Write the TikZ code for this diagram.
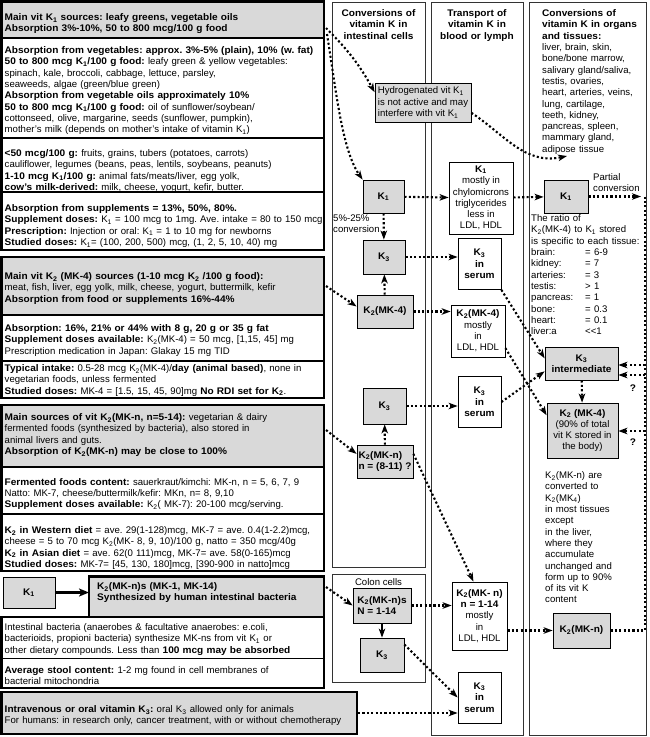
\documentclass[tikz,border=0pt]{standalone}
\usepackage{fontspec}
\setmainfont{Liberation Sans}[BoldFeatures={FakeStretch=1.05}]
\usetikzlibrary{arrows.meta,positioning,calc}
\definecolor{kgray}{gray}{0.85}
\newcommand{\ks}[1]{K\textsubscript{#1}}
\newcommand{\tissuecol}[1]{\makebox[54pt][l]{#1}}
\frenchspacing

\begin{document}
\begin{tikzpicture}[x=1pt, y=-1pt,
    every node/.style={font=\fontsize{9.6}{11.3}\selectfont},
    txt/.style={inner sep=0pt, align=left, anchor=base west, text width=#1},
    txt/.default=340pt,
    ttl/.style={inner sep=0pt, align=center, anchor=base, text width=92pt, font=\fontsize{9.6}{11.3}\selectfont\bfseries},
    frame/.style={draw=black!80, line width=1pt},
    heavy/.style={draw, line width=2.6pt},
    sepline/.style={line width=1.3pt},
    kbox/.style={draw, fill=kgray, line width=0.8pt, inner sep=1pt, align=center, font=\fontsize{9.6}{11.3}\selectfont\bfseries},
    wbox/.style={draw, fill=white, line width=0.8pt, inner sep=1pt, align=center},
    serum/.style={wbox, minimum width=43pt, minimum height=51pt, font=\fontsize{9.6}{11.3}\selectfont\bfseries},
    dotline/.style={line width=2.1pt, dash pattern=on 2.1pt off 2.3pt},
    dotarrow/.style={dotline, -{Stealth[length=9pt, width=6.5pt, inset=2.5pt]}},
    solidarrow/.style={line width=1.4pt, -{Stealth[length=9pt, width=6.5pt, inset=2.5pt]}}
]
\useasboundingbox (0,0) rectangle (650,737);

% Left panels: grey headers, rules and heavy frames
\foreach \l/\t/\b in {1.5/1.5/38, 1.5/257/315, 1.5/405/467, 89/576.5/617, 1.5/692/734}
    \fill[kgray] (\l,\t) rectangle (324,\b);
\fill[kgray] (324,692) rectangle (357,734);
\foreach \l/\y in {1.5/38, 1.5/138, 1.5/192, 1.5/315, 1.5/361, 1.5/467, 1.5/514, 89/617, 1.5/658.5}
    \draw[sepline] (\l,\y) -- (324,\y);
\foreach \t/\b in {1.5/250, 257/398, 405/571}
    \draw[heavy] (1.5,\t) rectangle (324,\b);
\draw[heavy] (89,576.5) -- (324,576.5) -- (324,688) -- (1.5,688) -- (1.5,617) -- (89,617) -- cycle;
\draw[heavy] (1.5,692) rectangle (357,734);

% Columns
\draw[frame] (332,2) rectangle (425,567);
\draw[frame] (332,574) rectangle (425,682);
\draw[frame] (431,2) rectangle (523,735);
\draw[frame] (529,2) rectangle (646,735);

% Vitamin K1
\node[txt] (k1head) at (4.5,20.6) {\textbf{Main vit \ks{1} sources: leafy greens, vegetable oils}\\
    \textbf{Absorption 3\%-10\%, 50 to 800 mcg/100 g food}};
\node[txt] (k1veg) at (4.5,53.6) {\textbf{Absorption from vegetables: approx. 3\%-5\% (plain), 10\% (w. fat)}\\
    \textbf{50 to 800 mcg \ks{1}/100 g food:} leafy green \& yellow vegetables:\\
    spinach, kale, broccoli, cabbage, lettuce, parsley,\\
    seaweeds, algae (green/blue green)\\
    \textbf{Absorption from vegetable oils approximately 10\%}\\
    \textbf{50 to 800 mcg \ks{1}/100 g food:} oil of sunflower/soybean/\\
    cottonseed, olive, margarine, seeds (sunflower, pumpkin),\\
    mother's milk (depends on mother's intake of vitamin \ks{1})};
\node[txt] (k1low) at (4.5,156.6) {\textbf{<50 mcg/100 g:} fruits, grains, tubers (potatoes, carrots)\\
    cauliflower, legumes (beans, peas, lentils, soybeans, peanuts)\\
    \textbf{1-10 mcg \ks{1}/100 g:} animal fats/meats/liver, egg yolk,\\
    \textbf{cow's milk-derived:} milk, cheese, yogurt, kefir, butter.};
\node[txt] (k1supp) at (4.5,211.6) {\textbf{Absorption from supplements = 13\%, 50\%, 80\%.}\\
    \textbf{Supplement doses:} \ks{1} = 100 mcg to 1mg. Ave. intake = 80 to 150 mcg\\
    \textbf{Prescription:} Injection or oral: \ks{1} = 1 to 10 mg for newborns\\
    \textbf{Studied doses:} \ks{1}= (100, 200, 500) mcg, (1, 2, 5, 10, 40) mg};

% Vitamin K2 (MK-4)
\node[txt] (mk4head) at (4.5,279.6) {\textbf{Main vit \ks{2} (MK-4) sources (1-10 mcg \ks{2} /100 g food):}\\
    meat, fish, liver, egg yolk, milk, cheese, yogurt, buttermilk, kefir\\
    \textbf{Absorption from food or supplements 16\%-44\%}};
\node[txt] (mk4abs) at (4.5,331.6) {\textbf{Absorption: 16\%, 21\% or 44\% with 8 g, 20 g or 35 g fat}\\
    \textbf{Supplement doses available:} \ks{2}(MK-4) = 50 mcg, [1,15, 45] mg\\
    Prescription medication in Japan: Glakay 15 mg TID};
\node[txt] (mk4day) at (4.5,371.6) {\textbf{Typical intake:} 0.5-28 mcg \ks{2}(MK-4)/\textbf{day (animal based)}, none in\\
    vegetarian foods, unless fermented\\
    \textbf{Studied doses:} MK-4 = [1.5, 15, 45, 90]mg \textbf{No RDI set for \ks{2}}.};

% Vitamin K2 (MK-n)
\node[txt] (mknhead) at (4.5,420.6) {\textbf{Main sources of vit \ks{2}(MK-n, n=5-14):} vegetarian \& dairy\\
    fermented foods (synthesized by bacteria), also stored in\\
    animal livers and guts.\\
    \textbf{Absorption of \ks{2}(MK-n) may be close to 100\%}};
\node[txt] (mknferm) at (4.5,485.1) {\textbf{Fermented foods content:} sauerkraut/kimchi: MK-n, n = 5, 6, 7, 9\\
    Natto: MK-7, cheese/buttermilk/kefir: MKn, n= 8, 9,10\\
    \textbf{Supplement doses available:} \ks{2}( MK-7): 20-100 mcg/serving.};
\node[txt] (mkndiet) at (4.5,533.6) {\textbf{\ks{2} in Western diet} = ave. 29(1-128)mcg, MK-7 = ave. 0.4(1-2.2)mcg,\\
    cheese = 5 to 70 mcg \ks{2}(MK- 8, 9, 10)/100 g, natto = 350 mcg/40g\\
    \textbf{\ks{2} in Asian diet} = ave. 62(0 111)mcg, MK-7= ave. 58(0-165)mcg\\
    \textbf{Studied doses:} MK-7= [45, 130, 180]mcg, [390-900 in natto]mcg};

% Bacteria
\node[kbox, minimum width=52pt, minimum height=31pt] (k1s) at (29,592.5) {\ks{1}};
\node[txt] (bachead) at (97,589.6) {\textbf{\ks{2}(MK-n)s (MK-1, MK-14)}\\
    \textbf{Synthesized by human intestinal bacteria}};
\node[txt] (bactxt) at (4.5,630.6) {Intestinal bacteria (anaerobes \& facultative anaerobes: e.coli,\\
    bacterioids, propioni bacteria) synthesize MK-ns from vit \ks{1} or\\
    other dietary compounds. Less than \textbf{100 mcg may be absorbed}};
\node[txt] (stool) at (4.5,673.6) {\textbf{Average stool content:} 1-2 mg found in cell membranes of\\
    bacterial mitochondria};

% Vitamin K3
\node[txt=380pt] (k3head) at (4.5,712.6) {\textbf{Intravenous or oral vitamin \ks{3}:} oral \ks{3} allowed only for animals\\
    For humans: in research only, cancer treatment, with or without chemotherapy};

% Column titles and texts
\node[ttl] (ttlA) at (378.5,16.6) {Conversions of\\vitamin K in\\intestinal cells};
\node[ttl] (ttlB) at (477,16.6) {Transport of\\vitamin K in\\blood or lymph};
\node[txt=110pt] (ttlC) at (542,16.6) {\textbf{Conversions of}\\\textbf{vitamin K in organs}\\\textbf{and tissues:}\\
    liver, brain, skin,\\bone/bone marrow,\\salivary gland/saliva,\\testis, ovaries,\\heart, arteries, veins,\\
    lung, cartilage,\\teeth, kidney,\\pancreas, spleen,\\mammary gland,\\adipose tissue};
\node[txt=60pt] (conv) at (333,221.6) {5\%-25\%\\conversion};
\node[txt=60pt] (part) at (593,180.6) {Partial\\conversion};
\node[txt=118pt] (ratio) at (531,221.6) {The ratio of\\\ks{2}(MK-4) to \ks{1} stored\\is specific to each tissue:\\
    \tissuecol{brain:}= 6-9\\\tissuecol{kidney:}= 7\\\tissuecol{arteries:}= 3\\\tissuecol{testis:}> 1\\
    \tissuecol{pancreas:}= 1\\\tissuecol{bone:}= 0.3\\\tissuecol{heart:}= 0.1\\\tissuecol{liver:a}<{}<1};
\node[txt=100pt] (mkntxt) at (545,478.6) {\ks{2}(MK-n) are\\converted to\\\ks{2}(MK\textsubscript{4})\\in most tissues\\except\\
    in the liver,\\where they\\accumulate\\unchanged and\\form up to 90\%\\of its vit K\\content};
\node[inner sep=0pt] (colon) at (378.5,582) {Colon cells};

% Intestinal cells
\node[wbox, fill=kgray, align=left, minimum width=96pt, minimum height=39pt] (hyd) at (423,102.5) {Hydrogenated vit \ks{1}\\is not active and may\\interfere with vit \ks{1}};
\node[kbox, minimum width=41pt, minimum height=33pt] (k1a) at (383.5,196.5) {\ks{1}};
\node[kbox, minimum width=42pt, minimum height=34pt] (k3a) at (384,257) {\ks{3}};
\node[kbox, minimum width=56pt, minimum height=33pt] (mk4a) at (385,311.5) {\ks{2}(MK-4)};
\node[kbox, minimum width=43pt, minimum height=36pt] (k3b) at (384.5,406) {\ks{3}};
\node[kbox, align=left, minimum width=56pt, minimum height=33pt] (mkna) at (385,461.5) {\ks{2}(MK-n)\\n = (8-11) ?};
\node[kbox, align=left, minimum width=58pt, minimum height=35pt] (mkns) at (382,605.5) {\ks{2}(MK-n)s\\N = 1-14};
\node[kbox, minimum width=44pt, minimum height=34pt] (k3c) at (382,655) {\ks{3}};

% Blood or lymph
\node[wbox, minimum width=64pt, minimum height=72pt] (k1b) at (481,198) {\textbf{\ks{1}}\\mostly in\\chylomicrons\\triglycerides\\less in\\LDL, HDL};
\node[serum] (s1) at (479.5,264) {\ks{3}\\in\\serum};
\node[wbox, minimum width=54pt, minimum height=52pt] (mk4b) at (478,331) {\textbf{\ks{2}(MK-4)}\\mostly\\in\\LDL, HDL};
\node[serum] (s2) at (479.5,402) {\ks{3}\\in\\serum};
\node[wbox, minimum width=55pt, minimum height=68pt] (mknb) at (479.5,616) {\textbf{\ks{2}(MK- n)}\\\textbf{n = 1-14}\\mostly\\in\\LDL, HDL};
\node[serum] (s3) at (479.5,697.5) {\ks{3}\\in\\serum};

% Organs and tissues
\node[kbox, minimum width=44pt, minimum height=33pt] (k1c) at (566,196.5) {\ks{1}};
\node[kbox, minimum width=73pt, minimum height=33pt] (k3i) at (581.5,363.5) {\ks{3}\\intermediate};
\node[wbox, fill=kgray, minimum width=71pt, minimum height=55pt] (mk4c) at (582.5,430.5) {\textbf{\ks{2} (MK-4)}\\(90\% of total\\vit K stored in\\the body)};
\node[kbox, minimum width=57pt, minimum height=35pt] (mknc) at (581.5,630.5) {\ks{2}(MK-n)};
\node[inner sep=0pt, font=\fontsize{9.6}{11.3}\selectfont\bfseries] (q1) at (633,388) {?};
\node[inner sep=0pt, font=\fontsize{9.6}{11.3}\selectfont\bfseries] (q2) at (633,442) {?};

% Free ends
\coordinate (h1) at (326,28);
\coordinate (h2) at (327,34);
\coordinate (h3) at (326,286);
\coordinate (h4) at (326,430);
\coordinate (h5) at (326,587);
\coordinate (h6) at (358,713);
\coordinate (hk) at (89,592.5);
\coordinate (adip) at (567,156);
\coordinate (pc) at (641,196.5);
\coordinate (rtop) at (645,196.5);
\coordinate (rbot) at (645,630.5);
\coordinate (r1) at (645,365);
\coordinate (r2) at (645,375);
\coordinate (r3) at (645,431);

% Arrows
\draw[line width=2.6pt, -{Stealth[length=10pt, width=8pt, inset=2.5pt]}] (k1s) -- (hk);
\draw[dotarrow] (h1) to[bend left=8] (hyd.168);
\draw[dotarrow] (h2) .. controls (336,90) and (342,150) .. (k1a.north west);
\draw[dotarrow] (hyd.-12) .. controls (505,135) and (525,165) .. (adip);
\draw[dotarrow] (k1a) -- (k1b);
\draw[dotarrow] (k1b) -- (k1c);
\draw[dotarrow] (k1a) -- (k3a);
\draw[dotarrow] (k3a.east) -- (k3a.east -| s1.west);
\draw[dotarrow] (mk4a) -- (k3a);
\draw[dotarrow] (h3) -- (mk4a.170);
\draw[dotarrow] (mk4a.east) -- (mk4a.east -| mk4b.west);
\draw[dotarrow] (s1.south east) -- (k3i.172);
\draw[dotarrow] (s2.east) -- (k3i.192);
\draw[dotarrow] (mk4b.-32) -- (mk4c.157);
\draw[dotarrow] (k3i) -- (mk4c);
\draw[dotarrow] (k3b.east) -- (k3b.east -| s2.west);
\draw[dotarrow] (mkna) -- (k3b);
\draw[dotarrow] (h4) -- (mkna.165);
\draw[dotarrow] (mkna.15) -- (mknb.100);
\draw[dotarrow] (h5) -- (mkns.west);
\draw[solidarrow] (mkns) -- (k3c);
\draw[dotarrow] (mkns.east) -- (mkns.east -| mknb.west);
\draw[dotarrow] (k3c.25) -- (s3.west);
\draw[dotarrow] (h6) -- (h6 -| s3.west);
\draw[dotarrow] (mknb.east |- mknc.west) -- (mknc.west);
\draw[dotarrow] (k1c) -- (pc);
\draw[dotline] (rtop) -- (rbot);
\draw[dotline] (mknc) -- (rbot);
\draw[dotarrow] (r1) -- (r1 -| k3i.east);
\draw[dotarrow] (r2) -- (r2 -| k3i.east);
\draw[dotarrow] (r3) -- (r3 -| mk4c.east);

\end{tikzpicture}
\end{document}
